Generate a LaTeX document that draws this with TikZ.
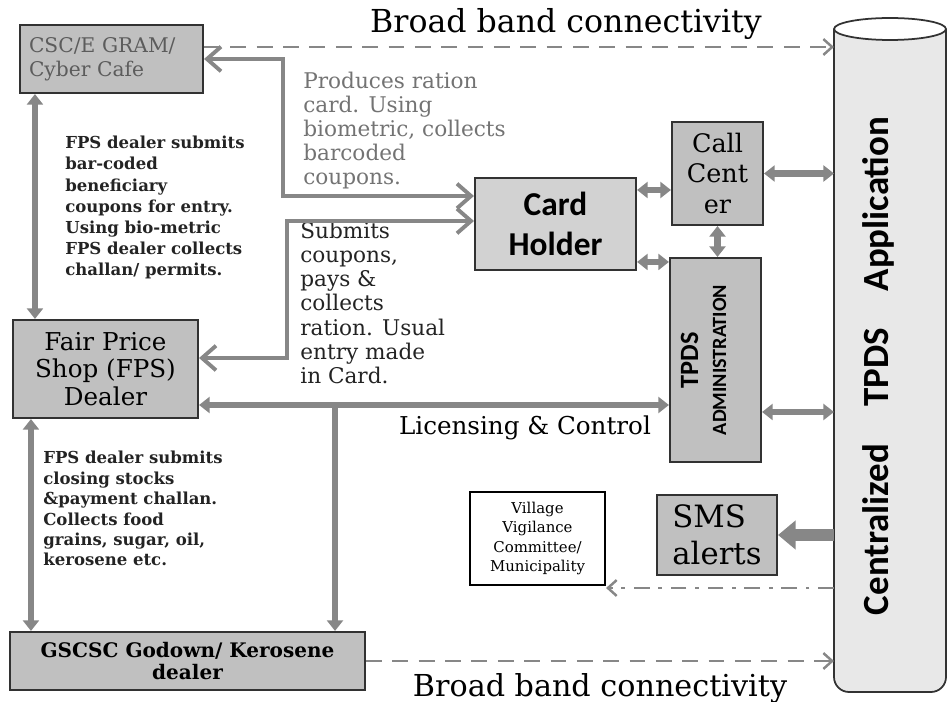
\documentclass[tikz,border=0pt]{standalone}
\usepackage{fontspec}
\setmainfont{DejaVu Serif}
\newfontfamily\calib{Carlito}
\usetikzlibrary{arrows.meta}

\definecolor{boxgray}{RGB}{192,192,192}
\definecolor{cardgray}{RGB}{210,210,210}
\definecolor{boxline}{RGB}{50,50,50}
\definecolor{arrowgray}{RGB}{135,135,135}
\definecolor{notecol}{RGB}{35,35,35}
\definecolor{lightnote}{RGB}{115,115,115}
\definecolor{appbody}{RGB}{232,232,232}

\tikzset{
  fathead/.tip={Triangle[length=6pt,width=9pt]},
  barbhead/.tip={Straight Barb[length=8pt,width=14pt]},
  openhead/.tip={Straight Barb[length=5pt,width=9pt]},
  grbox/.style={draw=boxline, fill=boxgray, line width=1.2pt, inner sep=2pt},
  fat/.style={draw=arrowgray, line width=3.5pt, fathead-fathead},
  barbed/.style={draw=arrowgray, line width=2.2pt, barbhead-barbhead},
  link/.style={draw=arrowgray, line width=1.4pt, dash pattern=on 9pt off 6pt, -openhead},
  note/.style={align=left, inner sep=0pt, anchor=north west, text=notecol}
}

\begin{document}
\begin{tikzpicture}[x=0.02cm, y=-0.02cm]
\useasboundingbox (0,0) rectangle (950,702);

\draw[draw=boxline, fill=appbody, line width=1pt, rounded corners=0.3cm]
  (834,29) -- (834,692) -- (946,692) -- (946,29);
\draw[draw=boxline, fill=white, line width=1pt] (890,29) ellipse [x radius=1.12cm, y radius=0.22cm];
\coordinate (appedge) at (834,360);
\node[rotate=90, font=\calib\bfseries\fontsize{21}{24}\selectfont] (app) at (878,366) {Centralized\quad TPDS\quad Application};

\node[grbox, minimum width=3.66cm, minimum height=1.36cm, text width=3.3cm, align=left,
  text=lightnote!80!black, font=\fontsize{11.5}{13.5}\selectfont] (csc) at (111.5,59) {CSC/E GRAM/\\Cyber Cafe};
\node[grbox, fill=cardgray, minimum width=3.22cm, minimum height=1.84cm, align=center,
  font=\calib\bfseries\fontsize{19}{23}\selectfont] (card) at (555.5,224) {Card\\Holder};
\node[grbox, minimum width=1.82cm, minimum height=2.06cm, align=center,
  font=\fontsize{14.5}{17.5}\selectfont] (call) at (717.5,173.5) {Call\\Cent\\er};
\node[grbox, minimum width=1.82cm, minimum height=4.08cm] (admin) at (715.5,360) {};
\node[rotate=90, align=center, font=\calib\bfseries] (admintext) at ([xshift=-0.24cm]admin.center)
  {{\fontsize{15}{15}\selectfont TPDS}\\[4pt]{\fontsize{11.5}{12}\selectfont ADMINISTRATION}};
\node[grbox, minimum width=3.7cm, minimum height=1.96cm, align=center,
  font=\fontsize{14}{15.5}\selectfont] (fps) at (105.5,369) {Fair Price\\Shop (FPS)\\Dealer};
\node[grbox, minimum width=7.1cm, minimum height=1.16cm, align=center,
  font=\bfseries\fontsize{11.4}{12.5}\selectfont] (godown) at (187.5,661) {GSCSC Godown/ Kerosene\\dealer};
\node[draw=black, line width=1.2pt, fill=white, minimum width=2.7cm, minimum height=1.86cm, align=center,
  font=\fontsize{8.5}{11}\selectfont] (village) at (537.5,538.5) {Village\\Vigilance\\Committee/\\Municipality};
\node[grbox, minimum width=2.4cm, minimum height=1.6cm, align=left,
  font=\fontsize{17.5}{21}\selectfont] (sms) at (717,535) {SMS\\alerts};

\node[font=\fontsize{18}{20}\selectfont] (bbtop) at (566,24) {Broad band connectivity};
\node[font=\fontsize{17.2}{19}\selectfont] (bbbot) at (600,688) {Broad band connectivity};
\node[font=\fontsize{14}{17}\selectfont] (licensing) at (525,428) {Licensing \& Control};

\node[note, text=lightnote, font=\fontsize{12.3}{13.6}\selectfont] (produces) at (303,72)
  {Produces ration\\card. Using\\biometric, collects\\barcoded\\coupons.};
\node[note, font=\bfseries\fontsize{9.4}{12}\selectfont] (fpsnoteA) at (65,136)
  {FPS dealer submits\\bar-coded\\beneficiary\\coupons for entry.\\Using bio-metric\\FPS dealer collects\\challan/ permits.};
\node[note, font=\fontsize{12.3}{13.7}\selectfont] (submits) at (300,222)
  {Submits\\coupons,\\pays \&\\collects\\ration. Usual\\entry made\\in Card.};
\node[note, font=\bfseries\fontsize{9.4}{11.6}\selectfont] (fpsnoteB) at (43,451)
  {FPS dealer submits\\closing stocks\\\&payment challan.\\Collects food\\grains, sugar, oil,\\kerosene etc.};

\coordinate (bb) at ([yshift=0.24cm]csc.east);
\draw[link] (bb) -- (bb -| appedge);
\draw[link] (godown.east) -- (godown.east -| appedge);
\coordinate (vv) at (834,588);
\draw[draw=arrowgray, line width=1.4pt, dash pattern=on 9pt off 5pt on 2pt off 5pt, -openhead] (vv) -- (vv -| village.east);

\coordinate (up) at (283,196);
\draw[barbed] (csc.east) -| (up) -- (up -| card.west);
\coordinate (dn) at (287,221);
\coordinate (fpsin) at (287,358);
\draw[barbed] (dn -| card.west) -- (dn) -- (fpsin) -- (fpsin -| fps.east);

\coordinate (lic) at (335,405);
\draw[fat] (lic -| fps.east) -- (lic -| admin.west);
\draw[fat, -fathead] (lic) -- (lic |- godown.north);
\draw[fat] ([xshift=0.32cm]csc.south west) -- ([xshift=0.32cm]csc.south west |- fps.north);
\draw[fat] ([xshift=0.38cm]fps.south west) -- ([xshift=0.38cm]fps.south west |- godown.north);

\coordinate (cc) at ([yshift=-0.33cm]call.west);
\draw[fat] (cc) -- (cc -| card.east);
\coordinate (ca) at ([yshift=-0.1cm]admin.north west);
\draw[fat] (ca) -- (ca -| card.east);
\draw[fat] (call.south) -- (call.south |- admin.north);
\draw[fat] (call.east) -- (call.east -| appedge);
\coordinate (ae) at ([yshift=-1.04cm]admin.east);
\draw[fat] (ae) -- (ae -| appedge);
\draw[draw=arrowgray, line width=6.5pt, -{Triangle[length=10pt,width=16pt]}] (sms.east -| appedge) -- (sms.east);
\end{tikzpicture}
\end{document}
